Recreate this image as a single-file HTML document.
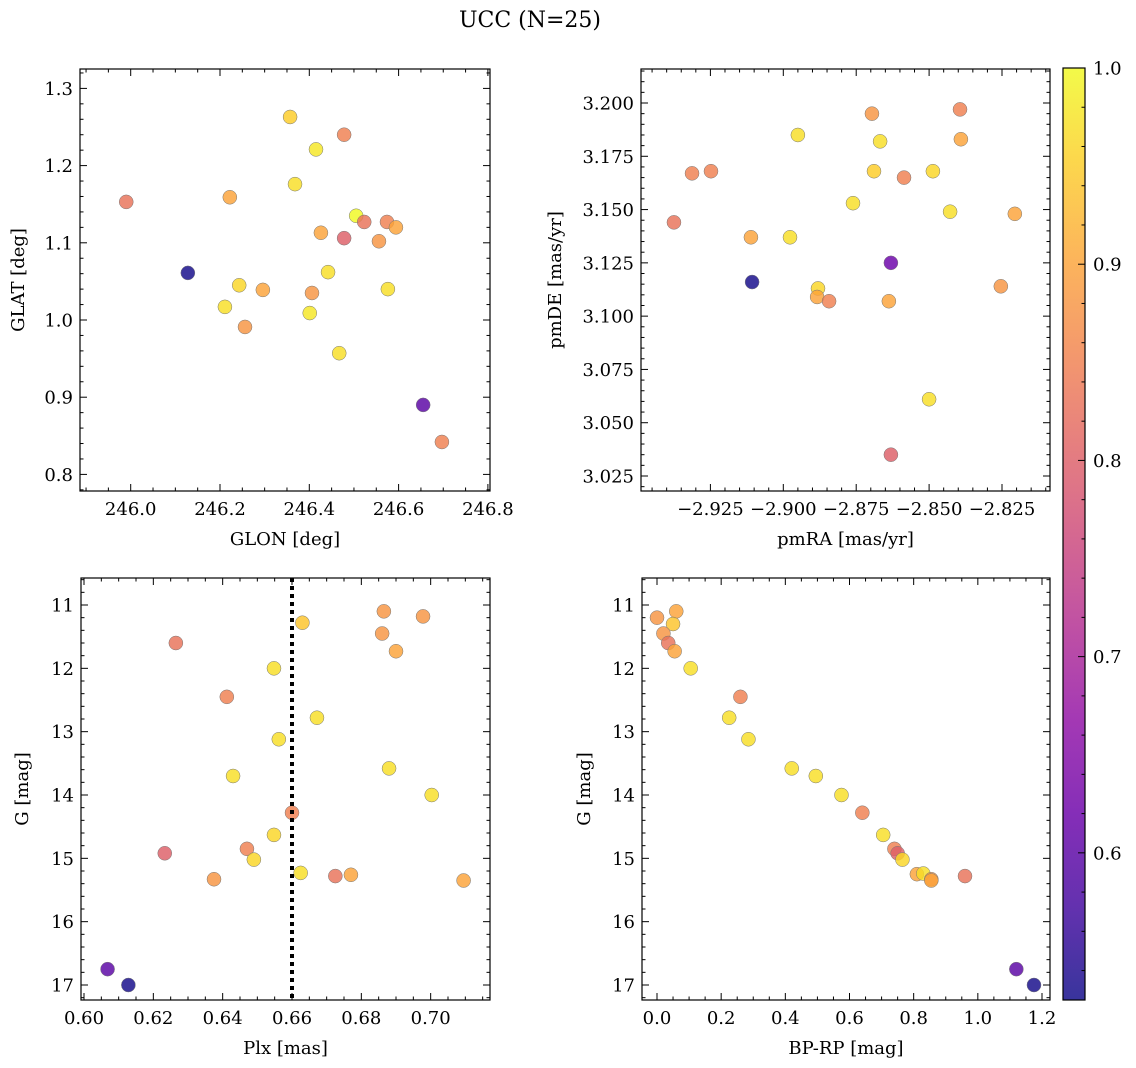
<!DOCTYPE html>
<html><head><meta charset="utf-8">
<style>
html,body{margin:0;padding:0;background:#fff;}
svg{display:block;font-family:"DejaVu Serif","Liberation Serif",serif;}
</style></head>
<body>
<svg id="fig" width="1136" height="1068" viewBox="0 0 1136 1068" xmlns="http://www.w3.org/2000/svg">
<text x="530" y="27" font-size="22" text-anchor="middle">UCC (N=25)</text>
</svg>
<script>
// ---- data ----
const glon = [245.99,246.128,246.222,246.211,246.243,246.256,246.296,246.357,246.368,246.415,246.426,246.442,246.406,246.401,246.467,246.478,246.478,246.505,246.523,246.556,246.574,246.594,246.576,246.655,246.697];
const glat = [1.153,1.061,1.159,1.017,1.045,0.991,1.039,1.263,1.176,1.221,1.113,1.062,1.035,1.009,0.957,1.240,1.106,1.135,1.127,1.102,1.127,1.120,1.040,0.890,0.842];
const prob1 = [0.83,0.53,0.9,0.97,0.96,0.88,0.9,0.95,0.97,0.98,0.9,0.97,0.88,0.98,0.97,0.85,0.8,1.0,0.83,0.88,0.85,0.9,0.97,0.6,0.85];

const pmra = [-2.9375,-2.9313,-2.9248,-2.9107,-2.9111,-2.895,-2.8977,-2.8881,-2.8884,-2.8843,-2.8761,-2.8696,-2.8689,-2.8668,-2.8631,-2.8638,-2.8586,-2.8631,-2.85,-2.8487,-2.8428,-2.8394,-2.8391,-2.8254,-2.8206];
const pmde = [3.144,3.167,3.168,3.116,3.137,3.185,3.137,3.113,3.109,3.107,3.153,3.195,3.168,3.182,3.125,3.107,3.165,3.035,3.061,3.168,3.149,3.197,3.183,3.114,3.148];
const prob2 = [0.83,0.85,0.85,0.53,0.9,0.97,0.97,0.96,0.9,0.85,0.97,0.88,0.95,0.97,0.62,0.9,0.85,0.8,0.97,0.96,0.97,0.85,0.9,0.88,0.9];

const plx = [0.6265,0.6548,0.6412,0.6672,0.6562,0.6430,0.6880,0.7003,0.6600,0.6548,0.6233,0.6470,0.6490,0.6625,0.6725,0.6770,0.6375,0.7095,0.6630,0.6865,0.6978,0.6860,0.6900,0.6068,0.6128];
const gmag3 = [11.6,12.0,12.45,12.78,13.12,13.7,13.58,14.0,14.28,14.63,14.92,14.85,15.02,15.23,15.28,15.26,15.33,15.35,11.28,11.1,11.18,11.45,11.73,16.75,17.0];
const prob3 = [0.83,0.97,0.85,0.97,0.97,0.97,0.97,0.97,0.85,0.96,0.8,0.85,0.96,0.97,0.83,0.9,0.88,0.9,0.94,0.88,0.88,0.88,0.9,0.6,0.53];

const bprp = [0.0,0.06,0.05,0.02,0.035,0.055,0.105,0.26,0.225,0.285,0.42,0.495,0.575,0.64,0.705,0.74,0.75,0.765,0.81,0.83,0.855,0.855,0.96,1.12,1.175];
const gmag4 = [11.2,11.1,11.3,11.45,11.6,11.73,12.0,12.45,12.78,13.12,13.58,13.7,14.0,14.28,14.63,14.85,14.92,15.02,15.25,15.24,15.33,15.35,15.28,16.75,17.0];
const prob4 = [0.88,0.9,0.94,0.88,0.83,0.9,0.97,0.85,0.97,0.97,0.97,0.97,0.97,0.85,0.97,0.85,0.8,0.96,0.9,0.97,0.88,0.9,0.83,0.6,0.53];

const ticksGlon = [246.0,246.2,246.4,246.6,246.8];
const ticksGlat = [0.8,0.9,1.0,1.1,1.2,1.3];
const ticksPmra = [-2.925,-2.900,-2.875,-2.850,-2.825];
const ticksPmde = [3.025,3.050,3.075,3.100,3.125,3.150,3.175,3.200];
const ticksPlx = [0.60,0.62,0.64,0.66,0.68,0.70];
const ticksG = [11,12,13,14,15,16,17];
const ticksBprp = [0.0,0.2,0.4,0.6,0.8,1.0,1.2];
const ticksCbar = [0.6,0.7,0.8,0.9,1.0];
const plxMean = [0.66];

// ---- helpers ----
const NS='http://www.w3.org/2000/svg';
const fig=document.getElementById('fig');
const FS=18;
function mk(tag,attrs,parent){const e=document.createElementNS(NS,tag);for(const k in attrs)e.setAttribute(k,attrs[k]);(parent||fig).appendChild(e);return e;}
const stops=[[13,8,135],[65,4,157],[106,0,168],[143,13,164],[177,42,144],[204,71,120],[225,100,98],[242,132,75],[252,166,54],[252,206,37],[240,249,33]];
const CMIN=0.525,CMAX=1.0;
function plasma(t){t=Math.max(0,Math.min(1,t))*10;const i=Math.min(9,Math.floor(t)),f=t-i;const a=stops[i],b=stops[i+1];
 return 'rgb('+a.map((v,k)=>Math.round(v+(b[k]-v)*f)).join(',')+')';}
function cval(p){return plasma((p-CMIN)/(CMAX-CMIN));}
function scale(d0,d1,r0,r1){return v=>r0+(v-d0)/(d1-d0)*(r1-r0);}

function panel(opt){
 const g=mk('g',{});
 
 
 const {L,R,T,B,sx,sy}=opt;
 const pts=mk('g',{},g);
 
 
 for(let i=0;i<opt.xs.length;i++){
  const c=mk('circle',{cx:sx(opt.xs[i]),cy:sy(opt.ys[i]),r:7,fill:cval(opt.cs[i]),'fill-opacity':0.82,stroke:'#777','stroke-width':0.5},pts);
  
  
 }
 if(opt.extra)opt.extra(g);
 const fr=mk('rect',{x:L,y:T,width:R-L,height:B-T,fill:'none',stroke:'#000','stroke-width':1.2},g);
 
 
 const xax=mk('g',{},g);
 
 
 const xs0=opt.xt[0],xstep=opt.xt[1]-opt.xt[0],xm=xstep/opt.xminor;
 for(let k=-40;k<200;k++){const v=xs0+k*xm;const px=sx(v);if(px<L-0.5||px>R+0.5)continue;
  const major=Math.abs(Math.round(k/opt.xminor)*opt.xminor-k)<1e-6;const len=major?7:3.5;
  mk('line',{x1:px,x2:px,y1:B,y2:B-len,stroke:'#000','stroke-width':1},xax);
  mk('line',{x1:px,x2:px,y1:T,y2:T+len,stroke:'#000','stroke-width':1},xax);}
 opt.xt.forEach((v,i)=>{const t=mk('text',{x:sx(v),y:B+24,'font-size':FS,'text-anchor':'middle'},xax);t.textContent=opt.xl[i];
  });
 const xt=mk('text',{x:(L+R)/2,y:B+54,'font-size':FS,'text-anchor':'middle'},xax);xt.textContent=opt.xlabel;
 
 const yax=mk('g',{},g);
 
 
 const ys0=opt.yt[0],ystep=opt.yt[1]-opt.yt[0],ym=ystep/opt.yminor;
 for(let k=-40;k<200;k++){const v=ys0+k*ym;const py=sy(v);if(py<T-0.5||py>B+0.5)continue;
  const major=Math.abs(Math.round(k/opt.yminor)*opt.yminor-k)<1e-6;const len=major?7:3.5;
  mk('line',{x1:L,x2:L+len,y1:py,y2:py,stroke:'#000','stroke-width':1},yax);
  mk('line',{x1:R,x2:R-len,y1:py,y2:py,stroke:'#000','stroke-width':1},yax);}
 opt.yt.forEach((v,i)=>{const t=mk('text',{x:L-7,y:sy(v)+6.5,'font-size':FS,'text-anchor':'end'},yax);t.textContent=opt.yl[i];
  });
 const yt=mk('text',{x:0,y:0,'font-size':FS,'text-anchor':'middle',transform:`translate(${opt.ylx},${(T+B)/2}) rotate(-90)`},yax);yt.textContent=opt.ylabel;
 
}

panel({name:'glon-glat-panel',L:80,R:490,T:69,B:491,
 sx:scale(246.0,246.2,130.7,220),sy:scale(1.0,1.1,320,242.8),
 xs:glon,ys:glat,cs:prob1,xt:ticksGlon,xl:ticksGlon.map(v=>v.toFixed(1)),xminor:4,
 yt:ticksGlat,yl:ticksGlat.map(v=>v.toFixed(1)),yminor:5,xlabel:'GLON [deg]',ylabel:'GLAT [deg]',ylx:24});
panel({name:'pm-panel',L:641,R:1050,T:69,B:491,
 sx:scale(-2.900,-2.875,783.3,856.2),sy:scale(3.200,3.025,103,476),
 xs:pmra,ys:pmde,cs:prob2,xt:ticksPmra,xl:ticksPmra.map(v=>'\u2212'+Math.abs(v).toFixed(3)),xminor:5,
 yt:ticksPmde,yl:ticksPmde.map(v=>v.toFixed(3)),yminor:5,xlabel:'pmRA [mas/yr]',ylabel:'pmDE [mas/yr]',ylx:561});
panel({name:'plx-g-panel',L:81,R:490,T:578,B:1000,
 sx:scale(0.60,0.66,84,292),sy:scale(11,17,605,985),
 xs:plx,ys:gmag3,cs:prob3,xt:ticksPlx,xl:ticksPlx.map(v=>v.toFixed(2)),xminor:4,
 yt:ticksG,yl:ticksG.map(v=>String(v)),yminor:5,xlabel:'Plx [mas]',ylabel:'G [mag]',ylx:28,
 extra:g=>{const sx=scale(0.60,0.66,84,292);plxMean.forEach(v=>{const l=mk('line',{x1:sx(v),x2:sx(v),y1:578,y2:1000,stroke:'#000','stroke-width':4,'stroke-dasharray':'4,4'},g);
  });}});
panel({name:'cmd-panel',L:642,R:1050,T:578,B:1000,
 sx:scale(0.0,1.2,657,1042),sy:scale(11,17,605,985),
 xs:bprp,ys:gmag4,cs:prob4,xt:ticksBprp,xl:ticksBprp.map(v=>v.toFixed(1)),xminor:4,
 yt:ticksG,yl:ticksG.map(v=>String(v)),yminor:5,xlabel:'BP-RP [mag]',ylabel:'G [mag]',ylx:590});

(function(){
 const cb=mk('g',{});
 
 
 const X=1063,W=22,T=68,B=1000;
 const cy=scale(CMIN,CMAX,B,T);
 const defs=mk('defs',{},cb);
 const lg=mk('linearGradient',{id:'cbg',x1:0,y1:1,x2:0,y2:0},defs);
 for(let i=0;i<=20;i++){mk('stop',{offset:i/20,'stop-color':plasma(i/20)},lg);}
 mk('rect',{x:X,y:T,width:W,height:B-T,fill:'url(#cbg)','fill-opacity':0.82},cb);
 mk('rect',{x:X,y:T,width:W,height:B-T,fill:'none',stroke:'#000','stroke-width':1.2},cb);
 for(let v=0.54;v<=1.0001;v+=0.02){const y=cy(v);const major=Math.abs(v*10-Math.round(v*10))<1e-6;
  mk('line',{x1:X+W,x2:X+W-(major?7:3.5),y1:y,y2:y,stroke:'#000','stroke-width':1},cb);}
 ticksCbar.forEach(v=>{const t=mk('text',{x:X+W+8,y:cy(v)+6.5,'font-size':FS},cb);t.textContent=v.toFixed(1);
  });
})();
</script>
</body></html>
